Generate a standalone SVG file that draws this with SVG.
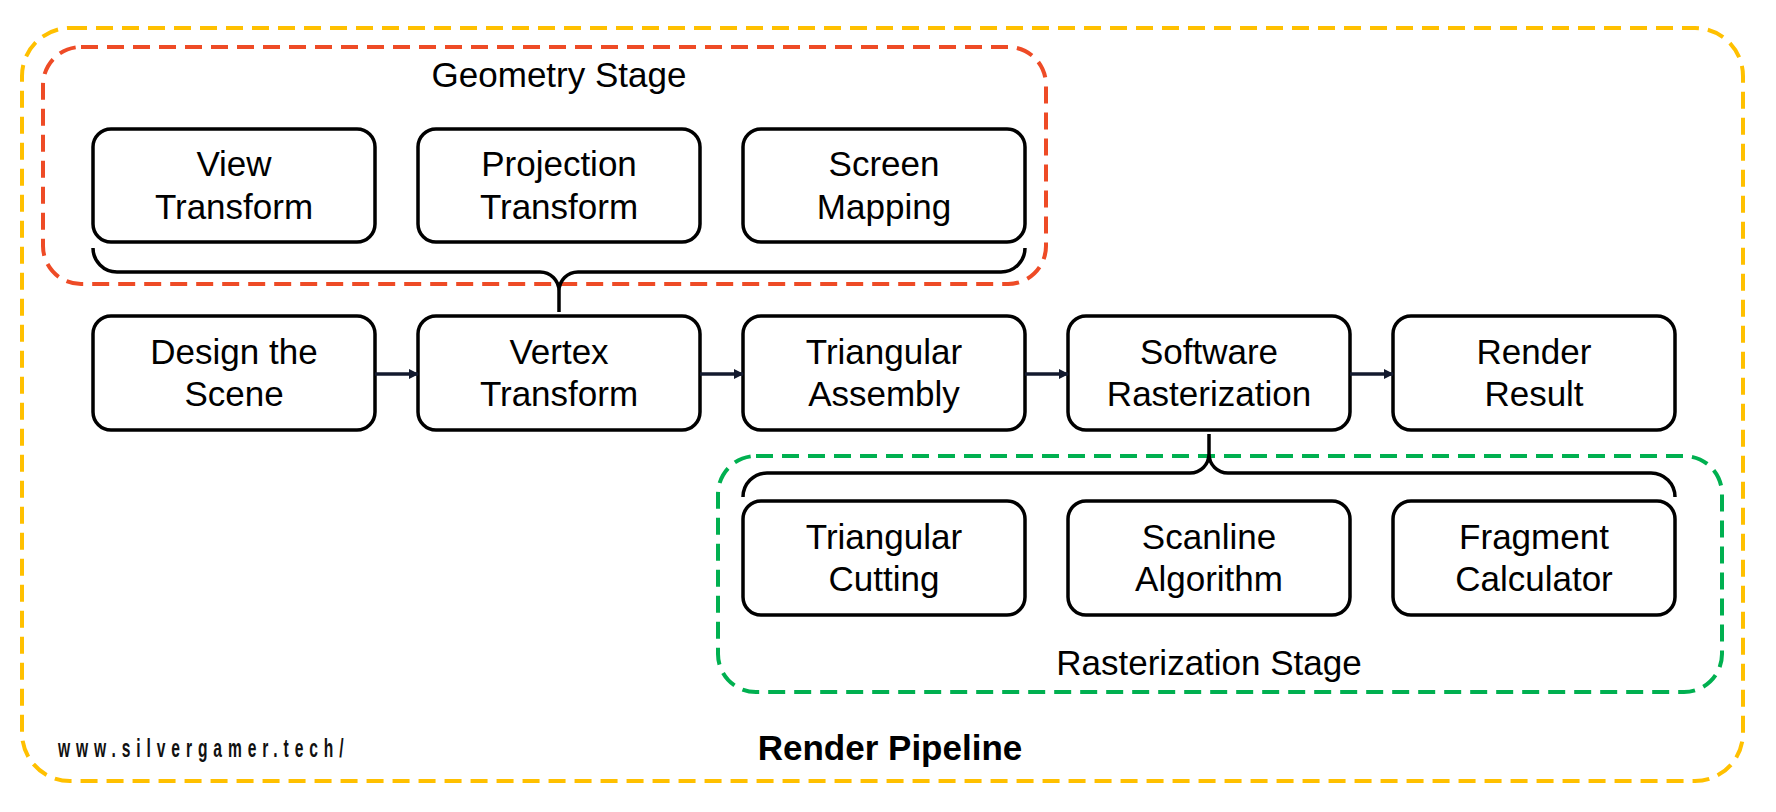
<svg xmlns="http://www.w3.org/2000/svg" width="1776" height="812" viewBox="0 0 1776 812">
<style>
.node rect{fill:#fff;stroke:#000;stroke-width:3.5}
.lbl{font-family:"Liberation Sans",Arial,sans-serif;font-size:35px;fill:#000;text-anchor:middle}
.stage{fill:none;stroke-width:4;stroke-dasharray:17 9}
.brace{fill:none;stroke:#000;stroke-width:3.5}
.conn{stroke:#131a2e;stroke-width:3.5;fill:none}
</style>
<defs>
<marker id="ah" markerWidth="10" markerHeight="10" refX="9" refY="5" orient="auto" markerUnits="userSpaceOnUse">
<path d="M0,0 L10,5 L0,10 Z" fill="#131a2e"/>
</marker>
</defs>
<rect width="1776" height="812" fill="#fff"/>
<g id="render-pipeline">
<rect class="stage" x="22" y="28" width="1721" height="753" rx="48" stroke="#FFC000"/>
<text x="890" y="760" font-family="Liberation Sans,Arial,sans-serif" font-size="35" font-weight="bold" text-anchor="middle">Render Pipeline</text>
<text transform="translate(58,757) scale(0.6,1)" font-family="Liberation Sans,Arial,sans-serif" font-size="26" font-weight="bold" fill="#111" textLength="476" lengthAdjust="spacing">www.silvergamer.tech/</text>
</g>
<g id="geometry-stage">
<rect class="stage" x="43" y="47" width="1003" height="237" rx="38" stroke="#EE4B26"/>
<text class="lbl" x="559" y="87">Geometry Stage</text>
</g>
<g id="rasterization-stage">
<rect class="stage" x="718" y="456" width="1004" height="236" rx="38" stroke="#00B050"/>
<text class="lbl" x="1209" y="675">Rasterization Stage</text>
</g>
<g id="view-transform" class="node"><rect x="93" y="129" width="282" height="113" rx="18"/><text class="lbl" x="234" y="176">View</text><text class="lbl" x="234" y="219">Transform</text></g>
<g id="projection-transform" class="node"><rect x="418" y="129" width="282" height="113" rx="18"/><text class="lbl" x="559" y="176">Projection</text><text class="lbl" x="559" y="219">Transform</text></g>
<g id="screen-mapping" class="node"><rect x="743" y="129" width="282" height="113" rx="18"/><text class="lbl" x="884" y="176">Screen</text><text class="lbl" x="884" y="219">Mapping</text></g>
<g id="design-scene" class="node"><rect x="93" y="316" width="282" height="114" rx="18"/><text class="lbl" x="234" y="364">Design the</text><text class="lbl" x="234" y="406">Scene</text></g>
<g id="vertex-transform" class="node"><rect x="418" y="316" width="282" height="114" rx="18"/><text class="lbl" x="559" y="364">Vertex</text><text class="lbl" x="559" y="406">Transform</text></g>
<g id="triangular-assembly" class="node"><rect x="743" y="316" width="282" height="114" rx="18"/><text class="lbl" x="884" y="364">Triangular</text><text class="lbl" x="884" y="406">Assembly</text></g>
<g id="software-rasterization" class="node"><rect x="1068" y="316" width="282" height="114" rx="18"/><text class="lbl" x="1209" y="364">Software</text><text class="lbl" x="1209" y="406">Rasterization</text></g>
<g id="render-result" class="node"><rect x="1393" y="316" width="282" height="114" rx="18"/><text class="lbl" x="1534" y="364">Render</text><text class="lbl" x="1534" y="406">Result</text></g>
<g id="triangular-cutting" class="node"><rect x="743" y="501" width="282" height="114" rx="18"/><text class="lbl" x="884" y="549">Triangular</text><text class="lbl" x="884" y="591">Cutting</text></g>
<g id="scanline-algorithm" class="node"><rect x="1068" y="501" width="282" height="114" rx="18"/><text class="lbl" x="1209" y="549">Scanline</text><text class="lbl" x="1209" y="591">Algorithm</text></g>
<g id="fragment-calculator" class="node"><rect x="1393" y="501" width="282" height="114" rx="18"/><text class="lbl" x="1534" y="549">Fragment</text><text class="lbl" x="1534" y="591">Calculator</text></g>
<g id="connectors">
<path class="brace" d="M93,248 A24,24 0 0 0 117,272 L540,272 A19,19 0 0 1 559,291 A19,19 0 0 1 578,272 L1001,272 A24,24 0 0 0 1025,248 M559,291 L559,312"/>
<path class="brace" d="M743,497 A24,24 0 0 1 767,473 L1190,473 A19,19 0 0 0 1209,454 A19,19 0 0 0 1228,473 L1651,473 A24,24 0 0 1 1675,497 M1209,454 L1209,434"/>
<line class="conn" x1="375" y1="374" x2="418" y2="374" marker-end="url(#ah)"/>
<line class="conn" x1="700" y1="374" x2="743" y2="374" marker-end="url(#ah)"/>
<line class="conn" x1="1025" y1="374" x2="1068" y2="374" marker-end="url(#ah)"/>
<line class="conn" x1="1350" y1="374" x2="1393" y2="374" marker-end="url(#ah)"/>
</g>
</svg>
